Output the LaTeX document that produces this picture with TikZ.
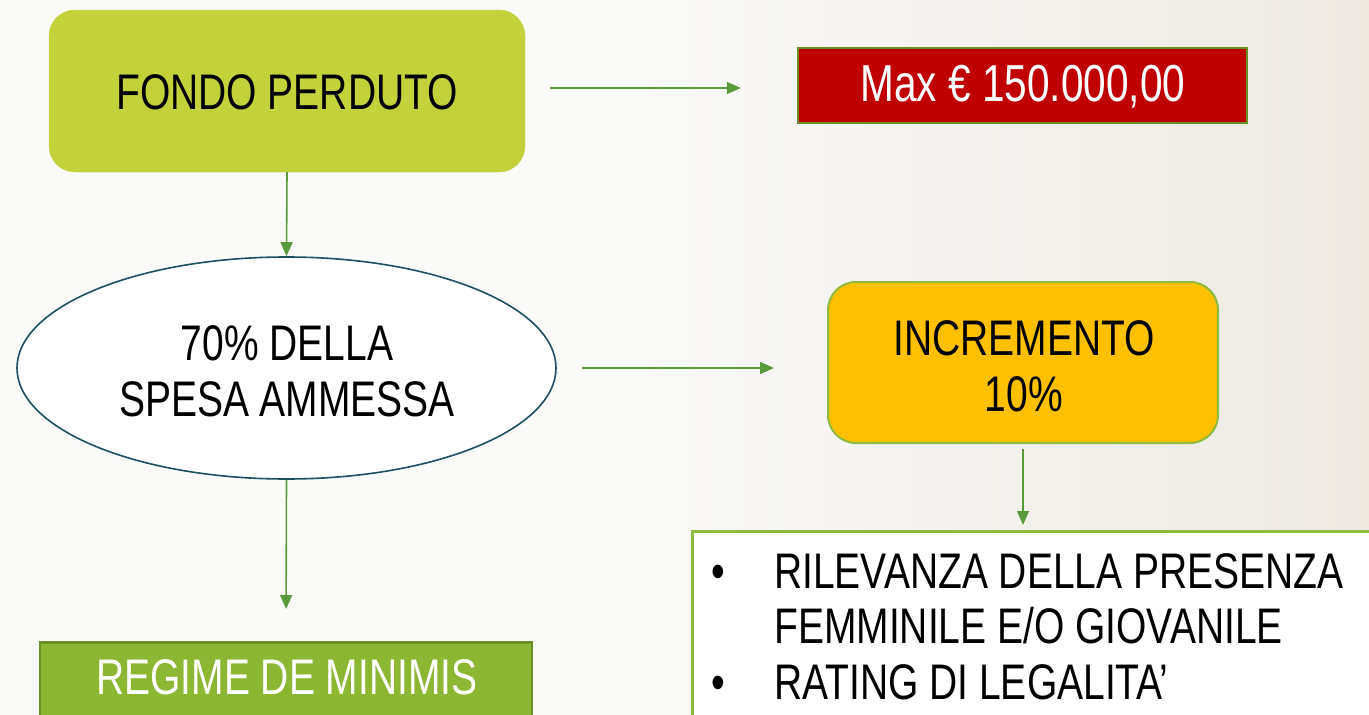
\documentclass[tikz,border=0pt]{standalone}
\usepackage{fontspec}
\setmainfont{Liberation Sans}[FakeStretch=0.78]
\usetikzlibrary{shapes.geometric,arrows.meta}
\definecolor{bgL}{HTML}{F1F0EC}
\definecolor{bgM}{HTML}{FAFAF9}
\definecolor{bgR}{HTML}{E1D9CB}
\definecolor{arrowgreen}{HTML}{5B9A3C}
\definecolor{olive}{HTML}{C3D13B}
\definecolor{darkred}{HTML}{C00000}
\definecolor{redborder}{HTML}{6B8E23}
\definecolor{amber}{HTML}{FFC000}
\definecolor{lightgreen}{HTML}{8DBB3F}
\definecolor{regfill}{HTML}{8DB733}
\definecolor{regborder}{HTML}{6A9027}
\definecolor{ellborder}{HTML}{1F4F63}
\pgfdeclarehorizontalshading{bgshade}{100bp}{color(0bp)=(bgL); color(28bp)=(bgM); color(48bp)=(bgM); color(100bp)=(bgR)}
\tikzset{
  big/.style={font=\fontsize{50}{56}\selectfont},
  flow/.style={draw=arrowgreen, line width=1.6pt, -{Triangle[length=14pt,width=12pt]}},
  shape box/.style={inner sep=0pt, outer sep=0pt, align=center, big},
}
\begin{document}
\begin{tikzpicture}[x=1pt,y=-1pt]
\useasboundingbox (0,0) rectangle (1369,715);
\clip (0,0) rectangle (1369,715);
\shade[shading=bgshade] (0,0) rectangle (1369,715);

% shapes
\node[rectangle, rounded corners=26pt, fill=olive, draw=olive, inner sep=0pt,
      minimum width=476pt, minimum height=162pt] (fp) at (287,91) {};
\node[rectangle, fill=darkred, draw=redborder, line width=2.5pt, inner sep=0pt,
      minimum width=449pt, minimum height=75pt] (max) at (1022.5,85.5) {};
\node[ellipse, fill=white, draw=ellborder, line width=1.6pt, inner sep=0pt,
      minimum width=539pt, minimum height=222pt] (ell) at (286.5,368) {};
\node[rectangle, rounded corners=28pt, fill=amber, draw=lightgreen, line width=2pt, inner sep=0pt,
      minimum width=390pt, minimum height=161pt] (inc) at (1023,362.5) {};
\node[rectangle, fill=regfill, draw=regborder, line width=2.5pt, inner sep=0pt,
      minimum width=492pt, minimum height=100pt, anchor=north] (reg) at (286,641) {};
\node[rectangle, fill=white, draw=lightgreen, line width=3pt, inner sep=0pt,
      minimum width=720pt, minimum height=220pt, anchor=north west] (list) at (691,530) {};

% texts
\node[shape box] (fptxt) at (287,92) {FONDO PERDUTO};
\node[shape box, text=white, font=\fontsize{52}{58}\selectfont] (maxtxt) at (1023,87) {Max € 150.000,00};
\node[shape box] (elltxt) at (287,371) {70\% DELLA\\SPESA AMMESSA};
\node[shape box] (inctxt) at (1024,366) {INCREMENTO\\10\%};
\node[shape box, text=white] (regtxt) at (287,677) {REGIME DE MINIMIS};

\node[big, inner sep=0pt, anchor=base west] (l1) at (774,588) {RILEVANZA DELLA PRESENZA};
\node[big, inner sep=0pt, anchor=base west] (l2) at (774,643) {FEMMINILE E/O GIOVANILE};
\node[big, inner sep=0pt, anchor=base west] (l3) at (774,699) {RATING DI LEGALITA’};
\node[big, inner sep=0pt, anchor=base] (b1) at (718,588) {•};
\node[big, inner sep=0pt, anchor=base] (b3) at (718,699) {•};

% connectors
\draw[flow, shorten <=25pt, shorten >=56pt] (fp.east |- 0,88) -- (max.west |- 0,88);
\draw[flow] (fp.south) -- (ell.north);
\draw[flow, shorten <=25pt, shorten >=53pt] (ell.east) -- (inc.west |- ell.east);
\draw[flow, shorten >=32pt] (ell.south) -- (reg.north);
\draw[flow, shorten <=5pt, shorten >=5pt] (inc.south) -- (inc.south |- list.north);
\end{tikzpicture}
\end{document}
